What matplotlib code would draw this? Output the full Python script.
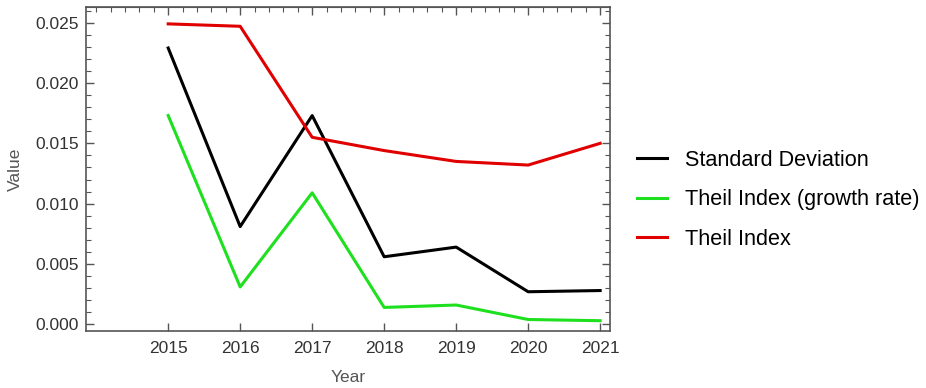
import matplotlib.pyplot as plt
from matplotlib.ticker import MultipleLocator

years = [2015, 2016, 2017, 2018, 2019, 2020, 2021]
std_dev = [0.0229, 0.0081, 0.0173, 0.0056, 0.0064, 0.0027, 0.0028]
theil_growth = [0.0173, 0.0031, 0.0109, 0.0014, 0.0016, 0.0004, 0.0003]
theil = [0.0249, 0.0247, 0.0155, 0.0144, 0.0135, 0.0132, 0.0150]

plt.rcParams['font.family'] = ['Liberation Sans', 'DejaVu Sans']

fig = plt.figure(figsize=(9.26, 3.88), dpi=100)
ax = fig.add_axes([0.093, 0.147, 0.566, 0.835])

ax.plot(years, std_dev, color='black', lw=2.2, label='Standard Deviation')
ax.plot(years, theil_growth, color='#1ee01e', lw=2.2, label='Theil Index (growth rate)')
ax.plot(years, theil, color='#e00000', lw=2.2, label='Theil Index')

ax.set_xlim(2013.86, 2021.14)
ax.set_ylim(-0.00055, 0.0263)

ax.set_xticks(years)
ax.yaxis.set_major_locator(MultipleLocator(0.005))
ax.yaxis.set_minor_locator(MultipleLocator(0.001))
ax.yaxis.set_major_formatter(plt.FormatStrFormatter('%.3f'))

ax.tick_params(axis='both', which='both', direction='in', colors='#555555',
               labelcolor='#333333', labelsize=12.5)
ax.tick_params(which='major', length=6, width=1)
ax.tick_params(which='minor', length=3.5, width=0.8)
ax.tick_params(axis='x', which='major', pad=7)
ax.tick_params(axis='y', which='major', pad=5)
ax.tick_params(axis='y', which='both', left=True, right=True)
ax.tick_params(axis='x', which='minor', bottom=False)

# top edge gets its own minor ticks every 0.2 years
top = ax.secondary_xaxis('top')
top.set_xticks(years)
top.xaxis.set_minor_locator(MultipleLocator(0.2))
top.tick_params(which='both', direction='in', colors='#555555', labeltop=False)
top.tick_params(which='major', length=6, width=1)
top.tick_params(which='minor', length=3.5, width=0.8)
top.spines['top'].set_color('#555555')

for s in ax.spines.values():
    s.set_color('#555555')
    s.set_linewidth(1.2)

ax.set_xlabel('Year', color='#555555', fontsize=12.5, labelpad=10)
ax.set_ylabel('Value', color='#555555', fontsize=12.5, labelpad=9)

fig.legend(loc='center left', bbox_to_anchor=(0.674, 0.485), frameon=False,
           fontsize=15.6, handlelength=1.4, handletextpad=0.8, labelspacing=0.85,
           borderaxespad=0.2)

fig.savefig('out.png', dpi=100)
